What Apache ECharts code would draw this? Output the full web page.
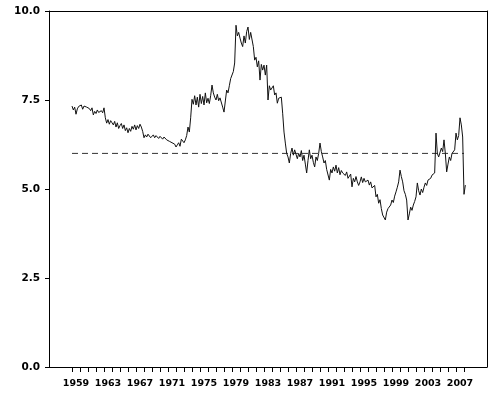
<!DOCTYPE html>
<html><head><meta charset="utf-8">
<script src="https://cdn.jsdelivr.net/npm/echarts@6/dist/echarts.min.js"></script>
<style>html,body{margin:0;padding:0;background:#fff}#c{width:500px;height:399px}</style>
</head><body><div id="c"></div>
<script>
// Series: six readings per year, starting at January 1959
const startYear = 1959;
const perYear = 6;
const values = [
  7.33, 7.22, 7.30, 7.10, 7.25, 7.32,   // 1959
  7.28, 7.36, 7.24, 7.33, 7.38, 7.30,   // 1960
  7.34, 7.26, 7.20, 7.28, 7.08, 7.18,   // 1961
  7.12, 7.22, 7.15, 7.10, 7.20, 7.14,   // 1962
  7.28, 7.00, 6.85, 6.95, 6.82, 6.92,   // 1963
  6.86, 6.80, 6.90, 6.74, 6.86, 6.70,   // 1964
  6.78, 6.84, 6.70, 6.80, 6.64, 6.72,   // 1965
  6.58, 6.70, 6.62, 6.76, 6.68, 6.80,   // 1966
  6.66, 6.78, 6.70, 6.82, 6.74, 6.62,   // 1967
  6.44, 6.52, 6.46, 6.54, 6.50, 6.44,   // 1968
  6.48, 6.52, 6.44, 6.50, 6.46, 6.42,   // 1969
  6.48, 6.44, 6.40, 6.46, 6.42, 6.38,   // 1970
  6.42, 6.34, 6.38, 6.30, 6.34, 6.26,   // 1971
  6.18, 6.24, 6.30, 6.20, 6.40, 6.44,   // 1972
  6.30, 6.38, 6.50, 6.74, 6.60, 7.00,   // 1973
  7.52, 7.38, 7.62, 7.36, 7.58, 7.30,   // 1974
  7.66, 7.40, 7.60, 7.36, 7.70, 7.42,   // 1975
  7.55, 7.40, 7.62, 7.92, 7.70, 7.58,   // 1976
  7.50, 7.66, 7.48, 7.56, 7.60, 7.30,   // 1977
  7.16, 7.20, 7.78, 7.70, 7.90, 8.10,   // 1978
  8.15, 8.30, 8.54, 9.60, 9.30, 9.40,   // 1979
  9.24, 9.10, 9.00, 9.30, 9.10, 9.42,   // 1980
  9.55, 9.20, 9.40, 9.38, 9.00, 8.62,   // 1981
  8.70, 8.43, 8.60, 8.06, 8.50, 8.34,   // 1982
  8.48, 8.20, 8.48, 7.50, 7.90, 7.78,   // 1983
  7.78, 7.90, 7.64, 7.70, 7.41, 7.55,   // 1984
  7.50, 7.58, 7.13, 6.60, 6.29, 6.00,   // 1985
  5.90, 5.73, 6.00, 6.15, 5.95, 6.10,   // 1986
  6.05, 5.85, 6.00, 5.90, 6.08, 5.80,   // 1987
  5.95, 5.70, 5.45, 5.80, 6.10, 5.85,   // 1988
  5.95, 5.75, 5.62, 5.90, 5.80, 6.00,   // 1989
  6.29, 6.05, 5.90, 5.73, 5.80, 5.55,   // 1990
  5.60, 5.25, 5.55, 5.45, 5.62, 5.50,   // 1991
  5.67, 5.45, 5.60, 5.40, 5.52, 5.45,   // 1992
  5.50, 5.38, 5.48, 5.30, 5.34, 5.42,   // 1993
  5.06, 5.30, 5.20, 5.35, 5.20, 5.10,   // 1994
  5.20, 5.34, 5.18, 5.30, 5.20, 5.15,   // 1995
  5.25, 5.11, 5.20, 5.03, 5.06, 5.10,   // 1996
  4.78, 4.85, 4.60, 4.70, 4.45, 4.27,   // 1997
  4.30, 4.13, 4.35, 4.45, 4.40, 4.55,   // 1998
  4.69, 4.62, 4.80, 4.92, 5.05, 5.20,   // 1999
  5.53, 5.35, 5.20, 4.95, 4.85, 4.69,   // 2000
  4.13, 4.30, 4.49, 4.40, 4.55, 4.65,   // 2001
  4.78, 5.17, 4.95, 4.83, 5.00, 4.90,   // 2002
  5.05, 5.17, 5.10, 5.25, 5.20, 5.30,   // 2003
  5.39, 5.35, 5.45, 6.57, 6.00, 5.90,   // 2004
  5.90, 6.15, 6.05, 6.38, 6.00, 5.48,   // 2005
  5.70, 5.90, 5.80, 6.00, 5.95, 6.10,   // 2006
  6.57, 6.38, 6.50, 7.00, 6.80, 6.46,   // 2007
  4.85, 5.11                            // 2008
];
const refLevel = 6.0;
const refFrom = 1959;
const refTo = 2008;
const tickYears = [];
for (let y = 1959; y <= 2008; y++) tickYears.push(y);
const labelYears = [1959,1963,1967,1971,1975,1979,1983,1987,1991,1995,1999,2003,2007];
const yTickLabels = ['0.0','2.5','5.0','7.5','10.0'];

const seriesData = values.map((v, i) => [startYear + i / perYear, v]);

const labelFont = {fontFamily: 'DejaVu Sans', fontWeight: 'bold', color: '#000'};
const frame = '#000';
const xMin = 1956.125, xMax = 2010.875;
const frameAxisX = {
  type: 'value', min: xMin, max: xMax, position: 'top',
  axisLine: {show: true, onZero: false, lineStyle: {color: frame, width: 1}},
  axisTick: {show: false}, axisLabel: {show: false}, splitLine: {show: false}
};
const frameAxisY = {
  type: 'value', min: 0, max: 10, position: 'right',
  axisLine: {show: true, onZero: false, lineStyle: {color: frame, width: 1}},
  axisTick: {show: false}, axisLabel: {show: false}, splitLine: {show: false}
};

const chart = echarts.init(document.getElementById('c'));
chart.setOption({
  animation: false,
  grid: {left: 49, right: 13, top: 11, bottom: 32},
  xAxis: [
    {
      type: 'value', min: xMin, max: xMax, position: 'bottom',
      axisLine: {show: true, onZero: false, lineStyle: {color: frame, width: 1}},
      axisTick: {show: true, length: 5, customValues: tickYears, lineStyle: {color: frame, width: 1}},
      axisLabel: Object.assign({
        customValues: labelYears.map(y => y + 0.5),
        formatter: v => String(Math.floor(v)),
        margin: 12, fontSize: 9.5
      }, labelFont),
      splitLine: {show: false}
    },
    frameAxisX
  ],
  yAxis: [
    {
      type: 'value', min: 0, max: 10, interval: 2.5, position: 'left',
      axisLine: {show: true, onZero: false, lineStyle: {color: frame, width: 1}},
      axisTick: {show: true, length: 4, lineStyle: {color: frame, width: 1}},
      axisLabel: Object.assign({
        formatter: v => yTickLabels[Math.round(v / 2.5)],
        margin: 9, fontSize: 10.5
      }, labelFont),
      splitLine: {show: false}
    },
    frameAxisY
  ],
  series: [
    {
      type: 'line', data: [[refFrom, refLevel], [refTo, refLevel]],
      symbol: 'none', silent: true,
      lineStyle: {color: '#333', width: 1, type: [6, 4]}
    },
    {
      type: 'line', data: seriesData, symbol: 'none',
      lineStyle: {color: '#111', width: 1}
    }
  ]
});
</script>
</body></html>
